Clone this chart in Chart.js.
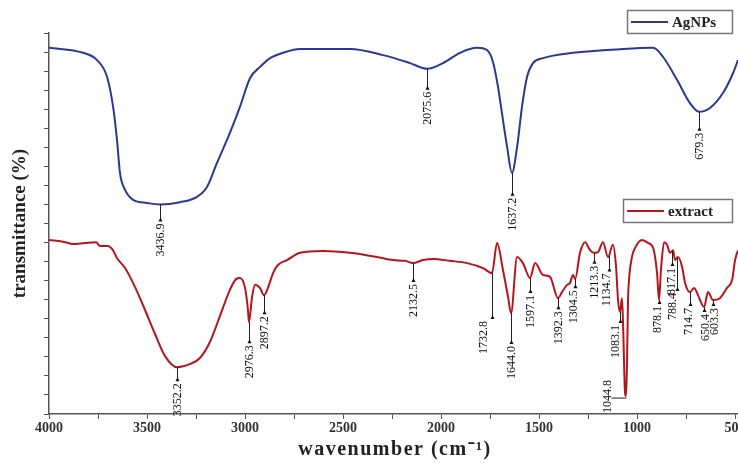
<!DOCTYPE html>
<html>
<head>
<meta charset="utf-8">
<script src="https://cdn.jsdelivr.net/npm/chart.js@4.4.1/dist/chart.umd.min.js"></script>
<style>
  html, body { margin: 0; padding: 0; background: #fff; overflow: hidden; }
  #wrap { width: 760px; height: 463px; }
</style>
</head>
<body>
<div id="wrap"><canvas id="ftir"></canvas></div>
<script>
// AgNPs spectrum (wavenumber, transmittance)
var agWavenumber = [4000, 3827, 3755, 3704, 3673, 3653, 3638, 3612, 3571, 3500, 3434, 3332, 3245, 3194, 3143, 3077, 3026, 2974, 2923, 2872, 2806, 2719, 2464, 2296, 2158, 2071, 1990, 1903, 1816, 1765, 1735, 1709, 1699, 1663, 1638, 1612, 1587, 1561, 1531, 1480, 1327, 1071, 918, 867, 796, 730, 684, 628, 561, 510, 485];
var agT = [96.1, 94.8, 92.9, 88.5, 80.6, 71.9, 63.3, 58.8, 56.2, 55.4, 55.0, 55.6, 57.0, 59.6, 65.9, 73.8, 80.6, 88.2, 91.1, 93.4, 94.8, 95.8, 95.8, 94.2, 92.1, 90.6, 92.1, 94.8, 96.1, 95.5, 92.4, 85.8, 82.4, 70.1, 63.3, 70.1, 80.6, 88.5, 92.1, 93.4, 94.8, 95.8, 96.1, 93.7, 87.7, 81.6, 79.3, 80.3, 84.3, 89.5, 92.9];

// extract spectrum
var exWavenumber = [4000, 3918, 3878, 3816, 3760, 3740, 3699, 3674, 3653, 3612, 3561, 3510, 3459, 3408, 3347, 3281, 3230, 3179, 3128, 3077, 3046, 3026, 3000, 2985, 2980, 2964, 2949, 2924, 2903, 2883, 2857, 2832, 2786, 2719, 2602, 2464, 2327, 2245, 2184, 2143, 2092, 2041, 1954, 1867, 1786, 1740, 1714, 1684, 1658, 1643, 1612, 1582, 1546, 1520, 1480, 1444, 1403, 1383, 1357, 1342, 1327, 1316, 1291, 1265, 1240, 1219, 1199, 1174, 1148, 1123, 1107, 1097, 1087, 1077, 1072, 1061, 1056, 1051, 1046, 1041, 1026, 1010, 975, 944, 918, 898, 888, 878, 862, 847, 832, 816, 806, 791, 770, 755, 730, 709, 689, 658, 638, 612, 577, 541, 515, 500, 485];
var exT = [45.7, 45.1, 44.6, 44.9, 45.1, 44.1, 44.1, 43.0, 40.9, 38.3, 33.3, 27.3, 21.0, 15.2, 12.3, 13.1, 14.7, 18.9, 25.7, 32.6, 35.4, 35.7, 33.1, 27.3, 24.1, 30.7, 33.9, 33.1, 31.2, 33.1, 37.0, 39.1, 40.4, 42.3, 42.8, 42.3, 41.2, 40.4, 40.2, 39.6, 40.4, 40.7, 40.2, 39.6, 38.3, 37.0, 44.9, 37.8, 30.7, 26.5, 41.2, 39.6, 35.7, 39.6, 36.5, 36.0, 30.4, 32.0, 33.9, 34.4, 36.5, 35.4, 42.3, 45.1, 43.0, 42.3, 42.5, 45.1, 41.2, 44.4, 38.6, 29.9, 26.8, 30.4, 24.7, 5.5, 4.7, 14.2, 29.9, 35.2, 41.2, 43.6, 45.7, 44.9, 43.6, 37.0, 29.9, 37.8, 45.1, 44.4, 42.3, 43.0, 40.4, 41.2, 38.6, 34.4, 32.0, 33.1, 31.2, 28.1, 32.0, 29.9, 30.4, 33.1, 35.2, 40.4, 43.0];

// peak annotations
var agPeakLabels = ['3436.9', '2075.6', '1637.2', '679.3'];
var agPeakAt = [3434, 2071, 1638, 684];
var exPeakLabels = ['3352.2', '2976.3', '2897.2', '2132.5', '1732.8', '1644.0', '1597.1', '1392.3', '1304.5', '1213.3', '1134.7', '1083.1', '1044.8', '878.1', '817.1', '788.4', '714.7', '650.4', '603.3'];
var exPeakAt = [3347, 2980, 2903, 2143, 1740, 1643, 1546, 1403, 1316, 1219, 1143, 1087, 1056, 888, 821, 796, 730, 658, 612];

// axis ticks
var xTickValues = [4000, 3750, 3500, 3250, 3000, 2750, 2500, 2250, 2000, 1750, 1500, 1250, 1000, 750, 500];
var xTickLabels = [4000, 3500, 3000, 2500, 2000, 1500, 1000, 500];

// label placement: [line length, text x shift, text y shift]
var agLabelPlace = [[16, 0, 0], [20, 0, 0], [22, 0, 0], [18, 0, 0]];
var exLabelPlace = [[13, 0, 0], [20, 0, 0], [18, 0, 0], [18, 0, 0], [45, -9, 0], [30, 0, 0], [14, 0, 0], [10, 0, 0], [8, -2, 0],
  [10, 0, 0], [16, -3, 0], [10, -5, 0], [0, -19, -19], [3, -2, 0], [14, -1, 0], [32, -5, 0], [13, -2, 0], [4, 1, 0], [5, 1, 0]];

var serif = '"Liberation Serif", "Times New Roman", serif';

function toPoints(xs, ys) {
  return xs.map(function (x, i) { return { x: x, y: ys[i] }; });
}

function valueAt(xs, ys, w) {
  for (var i = 0; i < xs.length - 1; i++) {
    if (w <= xs[i] && w >= xs[i + 1]) {
      var t = (xs[i] - w) / (xs[i] - xs[i + 1]);
      return ys[i] + t * (ys[i + 1] - ys[i]);
    }
  }
  return ys[ys.length - 1];
}

var peakLabels = {
  id: 'peakLabels',
  afterDatasetsDraw: function (chart) {
    var c = chart.ctx, sx = chart.scales.x, sy = chart.scales.y;
    var sets = [
      [agWavenumber, agT, agPeakLabels, agPeakAt, agLabelPlace],
      [exWavenumber, exT, exPeakLabels, exPeakAt, exLabelPlace]
    ];
    c.save();
    c.font = '12px ' + serif;
    c.fillStyle = '#111';
    c.strokeStyle = '#222';
    c.lineWidth = 1;
    sets.forEach(function (s) {
      s[2].forEach(function (txt, i) {
        var w = s[3][i], pl = s[4][i];
        var px = Math.round(sx.getPixelForValue(w)) + 0.5;
        var py = sy.getPixelForValue(valueAt(s[0], s[1], w));
        var end = py + pl[0];
        if (pl[0] > 0) {
          c.beginPath();
          c.moveTo(px, py);
          c.lineTo(px, end);
          c.stroke();
          c.beginPath();
          c.moveTo(px, end - 3);
          c.lineTo(px - 2, end + 1);
          c.lineTo(px + 2, end + 1);
          c.closePath();
          c.fill();
        } else {
          c.beginPath();
          c.moveTo(px, py + 2);
          c.lineTo(px + pl[1] + 4, py + 2);
          c.stroke();
        }
        c.save();
        c.translate(px + pl[1], end + 3 + pl[2]);
        c.rotate(-Math.PI / 2);
        c.textAlign = 'right';
        c.textBaseline = 'middle';
        c.fillText(txt, 0, 0);
        c.restore();
      });
    });
    c.restore();
  }
};

var boxLegends = {
  id: 'boxLegends',
  afterDraw: function (chart) {
    var c = chart.ctx;
    var boxes = [[627, 10, 105, 23], [623, 199, 109, 23]];
    c.save();
    chart.data.datasets.forEach(function (ds, i) {
      var b = boxes[i];
      c.fillStyle = '#fff';
      c.fillRect(b[0], b[1], b[2], b[3]);
      c.strokeStyle = '#777';
      c.lineWidth = 1.5;
      c.strokeRect(b[0] + 0.5, b[1] + 0.5, b[2], b[3]);
      var cy = b[1] + b[3] / 2 + 0.5;
      c.strokeStyle = ds.borderColor;
      c.lineWidth = 2;
      c.beginPath();
      c.moveTo(b[0] + 4, cy);
      c.lineTo(b[0] + 41, cy);
      c.stroke();
      c.fillStyle = '#222';
      c.font = 'bold 15px ' + serif;
      c.textBaseline = 'middle';
      c.fillText(ds.label, b[0] + 45, cy + 1);
    });
    c.restore();
  }
};

// x axis title drawn by hand so it can be letter-spaced like the original
var xTitle = {
  id: 'xTitle',
  afterDraw: function (chart) {
    var c = chart.ctx, sx = chart.scales.x;
    var cx = (sx.getPixelForValue(4000) + sx.getPixelForValue(500)) / 2;
    c.save();
    c.font = 'bold 20px ' + serif;
    c.fillStyle = '#222';
    if ('letterSpacing' in c) c.letterSpacing = '1.5px';
    c.textAlign = 'center';
    c.textBaseline = 'middle';
    c.fillText('wavenumber (cm\u207B\u00B9)', cx + 3, 450);
    c.restore();
  }
};

var ctx = document.getElementById('ftir').getContext('2d');
var myChart = new Chart(ctx, {
  type: 'line',
  data: {
    datasets: [{
      label: 'AgNPs',
      data: toPoints(agWavenumber, agT),
      borderColor: '#2b3990',
      borderWidth: 2,
      pointRadius: 0,
      cubicInterpolationMode: 'monotone'
    }, {
      label: 'extract',
      data: toPoints(exWavenumber, exT),
      borderColor: '#b5161e',
      borderWidth: 2,
      pointRadius: 0,
      cubicInterpolationMode: 'monotone'
    }]
  },
  options: {
    responsive: true,
    maintainAspectRatio: false,
    animation: false,
    layout: { padding: { top: 33, right: 22, bottom: 0, left: 0 } },
    plugins: { legend: { display: false }, tooltip: { enabled: false } },
    scales: {
      x: {
        type: 'linear',
        reverse: true,
        min: 485,
        max: 4000,
        afterBuildTicks: function (s) {
          s.ticks = xTickValues.map(function (v) { return { value: v }; });
        },
        ticks: {
          autoSkip: false,
          maxRotation: 0,
          padding: 1,
          color: '#333',
          font: { family: serif, size: 14, weight: 'bold' },
          callback: function (v) { return xTickLabels.indexOf(v) >= 0 ? String(v) : ''; }
        },
        grid: { display: true, drawOnChartArea: false, drawTicks: true, tickLength: 5, color: '#555' },
        border: { display: true, color: '#555', width: 1.5 },
        title: { display: false },
        afterFit: function (s) { s.height = 49; }
      },
      y: {
        min: 0,
        max: 100,
        ticks: { display: false, stepSize: 5 },
        grid: { display: true, drawOnChartArea: false, drawTicks: true, tickLength: 5, color: '#555' },
        border: { display: true, color: '#555', width: 1.5 },
        title: {
          display: true,
          text: 'transmittance (%)',
          color: '#222',
          font: { family: serif, size: 19, weight: 'bold' },
          padding: { top: 9, bottom: 0 }
        },
        afterFit: function (s) { s.width = 49; }
      }
    }
  },
  plugins: [peakLabels, boxLegends, xTitle]
});
</script>
</body>
</html>
